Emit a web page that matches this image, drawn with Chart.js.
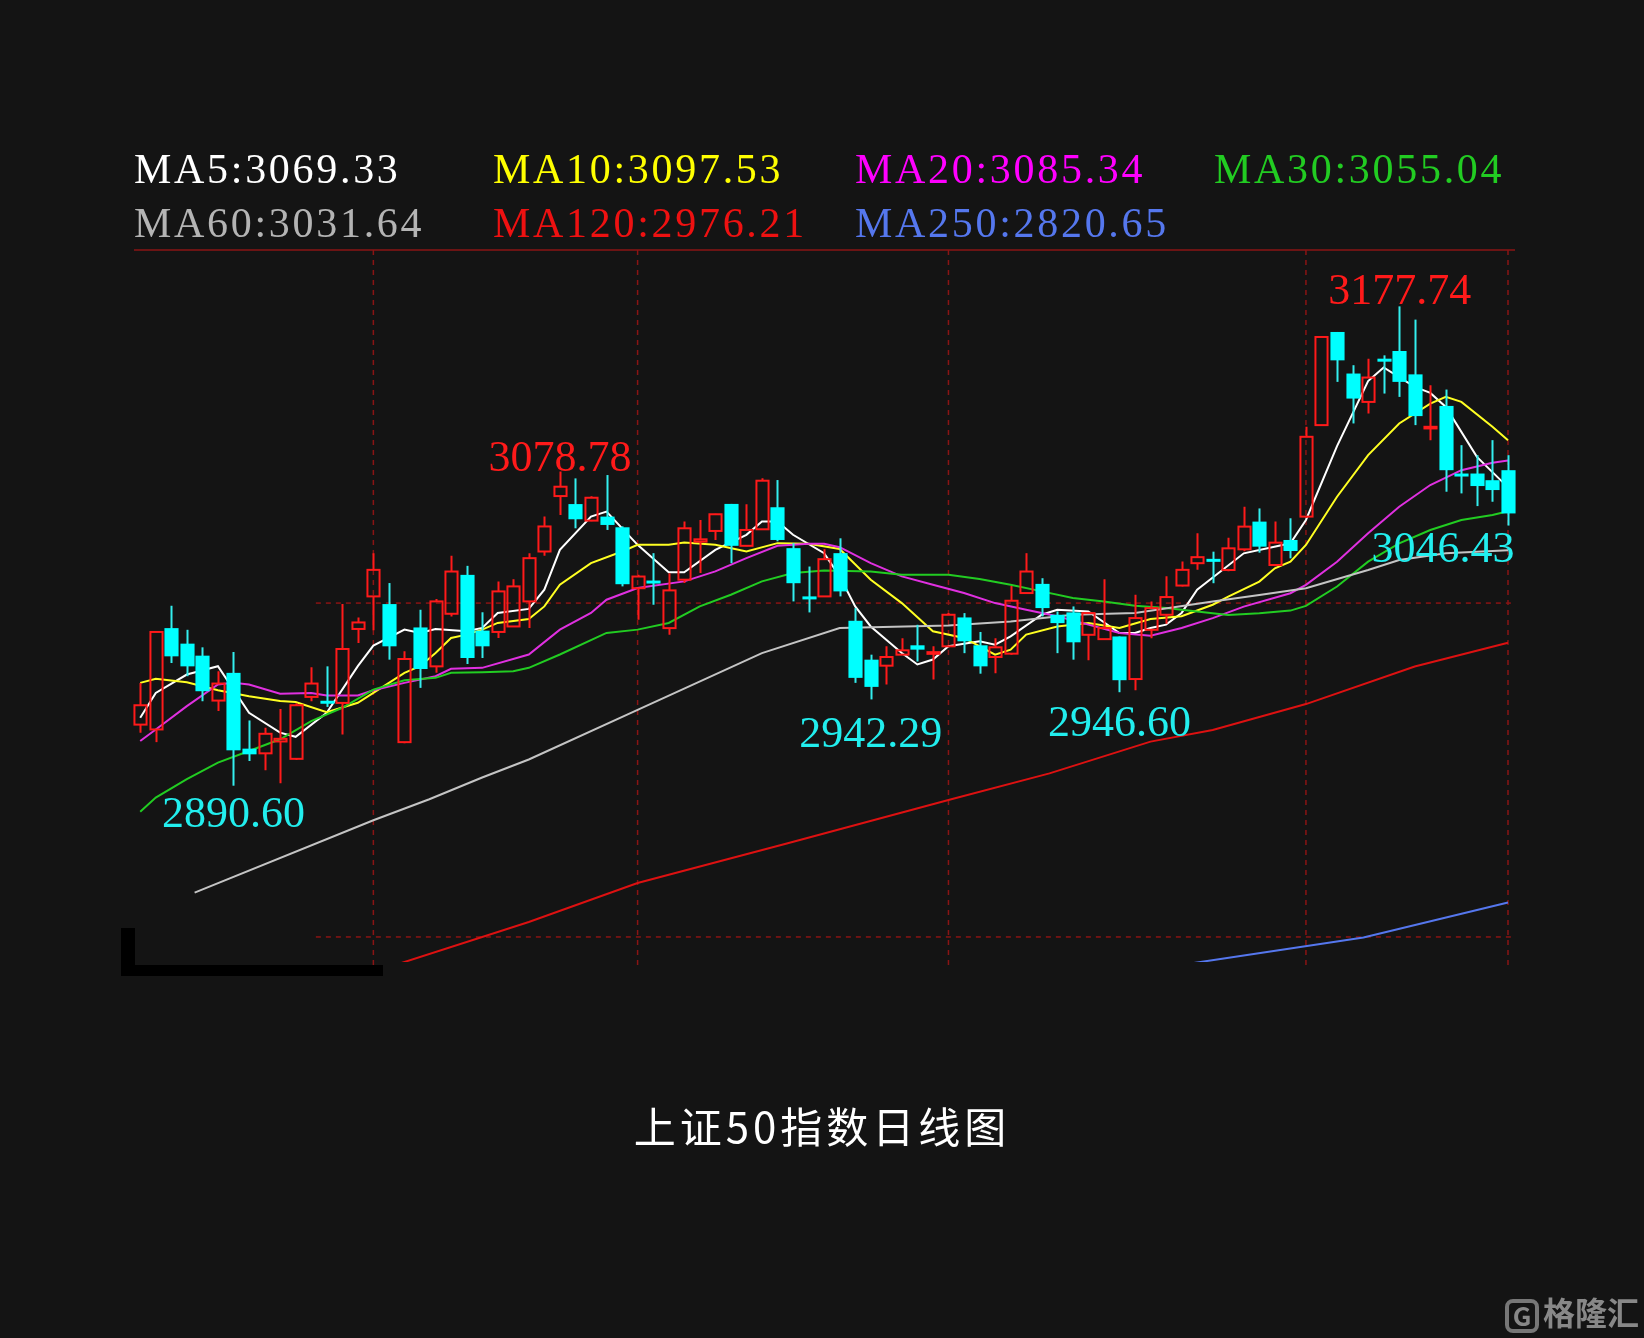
<!DOCTYPE html>
<html><head><meta charset="utf-8">
<script src="https://cdn.jsdelivr.net/npm/chart.js@4.4.0/dist/chart.umd.min.js"></script>
<style>
html,body{margin:0;padding:0;background:#141414;}
#wrap{position:relative;width:1644px;height:1338px;overflow:hidden;background:#141414;}
canvas{position:absolute;left:0;top:0;}
.t{position:absolute;font-family:"Liberation Serif","DejaVu Serif",serif;white-space:nowrap;}
.blk{position:absolute;background:#000;}
</style></head><body>
<div id="wrap"><canvas id="c" width="1644" height="1338"></canvas></div>
<script>
const opens=[2927.2,2924.3,2985.0,2975.7,2968.5,2941.6,2958.2,2912.8,2910.0,2917.1,2906.7,2943.8,2941.5,2940.2,2984.5,3004.0,2999.4,2916.7,2985.4,2962.1,2993.6,3016.9,2983.5,
2982.7,2986.0,3001.0,3030.9,3064.1,3059.3,3049.4,3051.8,3045.4,3008.9,3013.5,2985.0,3014.0,3036.8,3043.2,3059.4,3034.3,3044.2,3057.4,3032.9,3004.0,3004.0,3029.9,
2989.4,2966.1,2962.5,2969.1,2974.7,2969.6,2974.1,2991.4,2974.7,2967.7,2969.7,3006.0,3011.5,2993.0,2994.4,2981.0,2978.4,2980.0,2954.5,2984.0,2993.0,3010.5,3023.9,
3026.5,3019.8,3032.2,3048.8,3022.8,3037.8,3051.8,3106.6,3162.4,3137.5,3120.5,3146.4,3151.0,3137.0,3104.6,3118.1,3077.6,3077.6,3073.6,3079.6];
const closes=[2938.8,2982.7,2968.1,2962.1,2947.2,2951.8,2911.8,2909.4,2921.7,2918.7,2938.8,2951.8,2940.2,2972.5,2988.4,3019.9,2974.1,2966.5,2960.5,3001.0,3018.9,2967.1,2974.1,
3007.0,3010.0,3026.9,3045.9,3069.7,3050.2,3063.1,3046.8,3011.3,3015.9,3012.5,3007.6,3044.8,3038.2,3053.2,3034.3,3043.8,3073.3,3037.8,3011.9,3003.0,3026.3,3007.0,
2955.2,2949.8,2967.7,2971.7,2972.1,2970.6,2993.0,2977.1,2962.1,2973.5,3001.4,3018.9,2997.0,2988.0,2976.5,2994.0,2985.0,2953.8,2991.0,2997.0,3003.6,3019.9,3027.5,
3025.5,3032.8,3045.8,3033.8,3036.2,3031.2,3099.6,3159.4,3145.4,3122.5,3135.1,3145.4,3132.5,3112.0,3105.6,3079.6,3076.6,3070.1,3067.7,3053.7];
const highs=[2952.2,2982.7,2998.4,2984.0,2973.5,2959.2,2970.7,2929.7,2925.3,2936.6,2940.0,2961.5,2962.1,2999.4,2991.4,3029.9,3012.0,2971.1,2996.0,3002.4,3028.3,3022.3,2994.5,
3012.9,3014.3,3029.9,3051.8,3078.78,3074.7,3064.0,3076.7,3046.0,3017.0,3029.9,3017.9,3048.8,3049.8,3053.5,3059.4,3059.2,3074.7,3073.7,3035.9,3021.9,3032.3,3038.8,
2997.0,2969.1,2974.1,2979.0,2987.0,2974.1,2994.0,2994.0,2982.7,2979.0,3010.3,3029.9,3014.9,2995.0,2998.0,2994.5,3014.3,2980.0,3005.0,3001.0,3016.0,3024.9,3041.8,
3030.8,3039.2,3057.7,3056.7,3048.8,3050.8,3105.6,3160.0,3162.4,3142.5,3146.4,3148.4,3177.74,3169.8,3130.5,3127.9,3094.6,3088.6,3097.6,3088.6];
const lows=[2922.3,2916.7,2964.1,2956.2,2941.2,2935.3,2890.6,2905.4,2899.8,2892.0,2906.0,2941.2,2937.8,2921.3,2976.1,2983.7,2966.1,2916.0,2949.2,2958.2,2992.0,2963.5,2967.1,
2979.1,2986.0,2985.0,3028.3,3052.8,3044.8,3049.0,3043.8,3010.0,2990.0,2999.0,2981.0,3012.0,3018.0,3037.8,3023.9,3034.0,3044.0,3037.0,3001.0,2994.4,3004.0,3004.0,
2952.2,2942.29,2951.2,2969.0,2965.0,2954.2,2974.0,2970.0,2957.7,2958.0,2969.0,3006.0,2992.0,2970.0,2966.1,2965.7,2978.0,2946.6,2947.8,2979.0,2987.6,3010.0,3020.0,
3011.9,3019.0,3031.0,3030.2,3022.0,3026.8,3051.0,3106.0,3132.5,3107.6,3113.5,3125.5,3123.5,3106.6,3097.6,3066.7,3065.7,3058.1,3060.7,3046.43];
const ma5=[[0,2931.3],[1,2946.2],[3,2957.2],[5,2962.2],[7,2934.3],[9,2922.4],[10,2919.9],[12,2934.3],[14,2962.2],[15,2974.5],[17,2984.1],[18,2982.1],[19,2984.5],[21,2983.1],[22,2985.1],[23,2994.1],[25,2996.5],[26,3008],[27,3031.9],[29,3051.8],[30,3054.8],[32,3034.9],[34,3018.4],[35,3018.4],[37,3031.9],[39,3040.9],[40,3048.8],[41,3048.8],[42,3040.9],[44,3029.9],[45,3016],[46,2998],[47,2986],[49,2970.1],[50,2963.2],[51,2966.2],[52,2974.1],[54,2977.1],[55,2975.1],[56,2980.1],[58,2993],[59,2996],[61,2995],[63,2982.1],[64,2982.1],[65,2985.1],[66,2987.1],[67,2994.1],[68,3008],[71,3029.8],[74,3035.8],[75,3049.8],[77,3094],[79,3133],[80,3141.1],[82,3129.5],[83,3125.9],[84,3117.5],[86,3087.6],[88,3069.33]];
const ma10=[[0,2952.2],[1,2954.6],[3,2952.6],[5,2947.8],[7,2944.2],[9,2941.3],[10,2940.7],[12,2934.7],[14,2940.3],[15,2946.2],[17,2958.2],[18,2962.2],[19,2970.1],[20,2979.1],[21,2981.1],[22,2984.1],[23,2988.1],[25,2990.5],[26,2998],[27,3011],[29,3023.9],[31,3030.9],[32,3034.9],[34,3034.9],[35,3036.3],[37,3034.9],[39,3030.9],[41,3035.9],[43,3035.5],[45,3032.4],[47,3014],[49,3000],[51,2983.1],[53,2979.1],[55,2969.1],[56,2972.1],[57,2981.1],[59,2986],[61,2988],[63,2985.1],[65,2990.5],[67,2992.1],[69,2999],[70,3003.9],[72,3012.9],[73,3020.8],[74,3024.8],[75,3034.8],[77,3063.7],[79,3088.6],[81,3107.6],[83,3119.5],[84,3123.5],[85,3120.5],[87,3105.6],[88,3097.53]];
const ma20=[[0,2917.4],[1,2924.3],[3,2938.3],[5,2951.2],[6,2952.2],[7,2951.2],[9,2945.7],[11,2946.2],[12,2944.7],[14,2944.7],[15,2947.8],[17,2952.2],[19,2956.2],[20,2960.6],[22,2961.2],[25,2969.2],[27,2984.1],[29,2994.1],[30,3002],[32,3009],[35,3013],[37,3019],[39,3026.9],[41,3034.3],[43,3035.5],[44,3035.5],[45,3033.5],[47,3023.9],[49,3016],[51,3011],[53,3006],[55,3000],[57,2996],[59,2992.1],[61,2987.1],[63,2982.1],[65,2980.5],[67,2985.1],[69,2991],[71,2997.9],[74,3005.9],[75,3010.9],[77,3024.8],[79,3041.8],[81,3057.7],[83,3070.7],[85,3079.6],[87,3084],[88,3085.34]];
const ma30=[[0,2875],[1,2883.5],[3,2894.5],[5,2904.4],[7,2911.4],[9,2918.4],[11,2929.3],[13,2937.3],[15,2948.2],[17,2953.8],[19,2955.2],[20,2958.2],[22,2958.6],[24,2959.2],[25,2961.2],[27,2969.2],[30,2982.1],[32,2984.1],[34,2988.1],[36,2998],[38,3005],[40,3013],[42,3018],[44,3019.5],[47,3018.9],[49,3017],[52,3017],[54,3014.4],[56,3011],[58,3007],[60,3003],[62,3001],[64,2998.4],[66,2997],[68,2995],[70,2992.9],[72,2993.9],[74,2995.5],[75,2998.3],[77,3009.9],[79,3024.8],[81,3035.8],[83,3043.8],[85,3049.8],[87,3052.8],[88,3055.04]];
const ma60=[[3.5,2826.6],[15,2869.9],[18.6,2882.5],[22,2895.5],[25,2906.3],[32,2936],[40,2970],[45,2985],[52,2986.5],[56,2989],[60,2993],[64,2994],[69,3001],[72,3004.9],[75,3008.9],[79,3019.8],[81,3025.8],[84,3029.8],[88,3031.64]];
const ma120=[[16,2782],[25,2809],[32,2832.3],[41.6,2856],[52,2882],[58.5,2898],[65,2917],[69,2924],[75,2939.5],[82,2962],[88,2976.21]];
const ma250=[[67.5,2784],[78.7,2799.7],[88,2820.65]];
const gridX=[15,32,52,75,88];
const gridY=[3000,2800];
const marks=[
 {t:'3078.78',i:27,v:3078.78,dx:0,dy:-12,c:'#ff1a1a'},
 {t:'3177.74',i:82,v:3177.74,dx:-15,dy:-14,c:'#ff1a1a'},
 {t:'2890.60',i:6,v:2890.6,dx:0,dy:30,c:'#22eeee'},
 {t:'2942.29',i:47,v:2942.29,dx:0,dy:36,c:'#22eeee'},
 {t:'2946.60',i:63,v:2946.6,dx:0,dy:32,c:'#22eeee'},
 {t:'3046.43',i:88,v:3046.43,dx:-65,dy:25,c:'#22eeee'}];
const legend=[['MA5','3069.33','#ffffff'],['MA10','3097.53','#ffff00'],['MA20','3085.34','#ff00ff'],['MA30','3055.04','#22cc22'],
 ['MA60','3031.64','#b4b4b4'],['MA120','2976.21','#ee1111'],['MA250','2820.65','#5577ee']];

const toXY=a=>a.map(p=>({x:p[0],y:p[1]}));
const ln=(d,c,w)=>({type:'line',data:toXY(d),borderColor:c,borderWidth:w||2,pointRadius:0,tension:0,fill:false});

const bgPlugin={id:'bg',beforeDatasetsDraw(ch){
 const {ctx,chartArea:a,scales:{x,y}}=ch;
 ctx.save();
 ctx.strokeStyle='#8a1414';ctx.lineWidth=1.5;
 ctx.beginPath();ctx.moveTo(a.left,y.getPixelForValue(y.max));ctx.lineTo(a.right,y.getPixelForValue(y.max));ctx.stroke();
 ctx.setLineDash([5,5]);
 gridY.forEach(v=>{const py=y.getPixelForValue(v);ctx.beginPath();ctx.moveTo(x.getPixelForValue(11.3),py);ctx.lineTo(a.right,py);ctx.stroke();});
 gridX.forEach(i=>{const px=x.getPixelForValue(i);ctx.beginPath();ctx.moveTo(px,y.getPixelForValue(y.max));ctx.lineTo(px,a.bottom+8);ctx.stroke();});
 ctx.restore();
},afterDatasetsDraw(ch){
 const {ctx,scales:{x,y}}=ch;
 ctx.save();
 const w=(x.getPixelForValue(1)-x.getPixelForValue(0))*0.78;
 for(let i=0;i<opens.length;i++){
  const px=Math.round(x.getPixelForValue(i))+0.5;
  const o=y.getPixelForValue(opens[i]),c=y.getPixelForValue(closes[i]),h=y.getPixelForValue(highs[i]),l=y.getPixelForValue(lows[i]);
  const up=closes[i]>=opens[i];
  const top=Math.min(o,c),bot=Math.max(o,c);
  if(up){
   ctx.strokeStyle='#ff1a1a';ctx.lineWidth=2;
   ctx.beginPath();ctx.moveTo(px,h);ctx.lineTo(px,top);ctx.moveTo(px,bot);ctx.lineTo(px,l);ctx.stroke();
   ctx.strokeRect(px-w/2,top,w,Math.max(bot-top,1.5));
  }else{
   ctx.strokeStyle='#33eeee';ctx.lineWidth=2;ctx.fillStyle='#00ffff';
   ctx.beginPath();ctx.moveTo(px,h);ctx.lineTo(px,l);ctx.stroke();
   ctx.fillRect(px-w/2-1,top,w+2,Math.max(bot-top,3));
  }
 }
 ctx.font='44px "Liberation Serif", serif';ctx.textAlign='center';ctx.textBaseline='middle';
 marks.forEach(m=>{ctx.fillStyle=m.c;ctx.fillText(m.t,x.getPixelForValue(m.i)+m.dx,y.getPixelForValue(m.v)+m.dy);});
 ctx.restore();
}};

new Chart(document.getElementById('c'),{
 data:{datasets:[ln(ma250,'#5577ee'),ln(ma120,'#dd1111'),ln(ma60,'#c4c4c4'),ln(ma30,'#22cc22'),ln(ma20,'#e030e0'),ln(ma10,'#ffff22'),ln(ma5,'#ffffff')]},
 options:{responsive:false,animation:false,devicePixelRatio:1,
  layout:{padding:{left:134,right:129,top:250,bottom:376}},
  plugins:{legend:{display:false},tooltip:{enabled:false}},
  scales:{x:{type:'linear',display:false,min:-0.4,max:88.45},y:{type:'linear',display:false,min:2785,max:3211.5}}},
 plugins:[bgPlugin]});

const wrap=document.getElementById('wrap');
const colX=[134,493,855,1214];
legend.forEach((l,k)=>{const d=document.createElement('div');d.className='t';
 d.style.left=colX[k%4]+'px';d.style.top=(k<4?145:199)+'px';d.style.fontSize='42px';d.style.color=l[2];
 d.textContent=l[0]+':'+l[1];d.style.letterSpacing='2.7px';wrap.appendChild(d);});
[[121,928,14,47],[121,965,262,11]].forEach(b=>{const d=document.createElement('div');d.className='blk';
 d.style.left=b[0]+'px';d.style.top=b[1]+'px';d.style.width=b[2]+'px';d.style.height=b[3]+'px';wrap.appendChild(d);});
const tt=document.createElement('div');tt.className='t';tt.textContent='上证50指数日线图';
tt.style.cssText+='left:0;width:1644px;text-align:center;top:1094px;font-size:42px;color:#fff;letter-spacing:4px;font-family:"Noto Sans CJK SC",serif;';
wrap.appendChild(tt);
const wm=document.createElement('div');wm.className='t';wm.innerHTML='<span style="display:inline-block;border:4px solid #777;border-radius:8px;width:26px;height:26px;line-height:24px;text-align:center;font-size:26px;font-weight:bold;margin-right:4px;vertical-align:middle">G</span>格隆汇';
wm.style.cssText+='left:1505px;top:1288px;font-size:32px;color:#888;font-weight:bold;font-family:"Noto Sans CJK SC",sans-serif;';
wrap.appendChild(wm);
</script></body></html>
